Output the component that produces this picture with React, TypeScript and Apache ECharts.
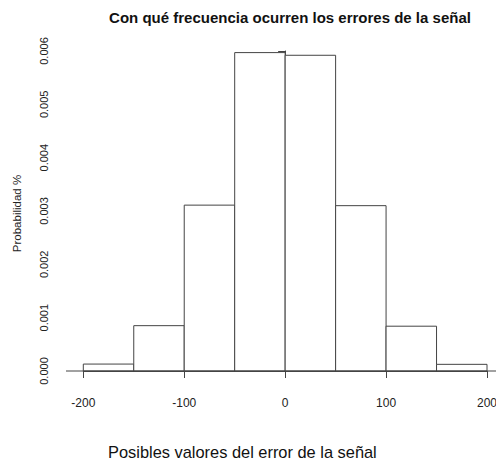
import React, { useEffect, useRef } from "react";
import * as echarts from "echarts";

const binStarts = [-200, -150, -100, -50, 0, 50, 100, 150];
const binEnds = [-150, -100, -50, 0, 50, 100, 150, 200];
const densities = [0.00013, 0.00085, 0.00311, 0.00597, 0.00592, 0.0031, 0.00084, 0.000125];
const xTicks = [-200, -100, 0, 100, 200];
const yTicks = [0, 0.001, 0.002, 0.003, 0.004, 0.005, 0.006];

const titleText = "Con qué frecuencia ocurren los errores de la señal";
const xName = "Posibles valores del error de la señal";
const yName = "Probabilidad %";

const FONT = "'Liberation Sans', Arial, Helvetica, sans-serif";
const LINE = "#444";

export default function App() {
  const ref = useRef<HTMLDivElement>(null);
  useEffect(() => {
    if (!ref.current) return;
    const chart = echarts.init(ref.current, null, { renderer: "svg" });
    const data = binStarts.map((s, i) => [s, binEnds[i], densities[i]]);
    chart.setOption({
      animation: false,
      backgroundColor: "#fff",
      title: {
        text: titleText,
        left: 285,
        top: 5,
        textAlign: "center",
        textStyle: { fontFamily: FONT, fontSize: 15, fontWeight: "bold", color: "#111" },
      },
      grid: { left: 83.3, right: 9, top: 51, bottom: 95, outerBoundsMode: "none", containLabel: false },
      xAxis: {
        type: "value",
        min: xTicks[0],
        max: xTicks[xTicks.length - 1],
        interval: 100,
        offset: 12,
        axisLine: { show: true, lineStyle: { color: LINE, width: 1 } },
        axisTick: { show: true, length: 7, lineStyle: { color: LINE } },
        axisLabel: { fontFamily: FONT, fontSize: 12, color: "#222", margin: 14 },
        splitLine: { show: false },
      },
      yAxis: {
        type: "value",
        min: yTicks[0],
        max: yTicks[yTicks.length - 1],
        interval: 0.001,
        offset: 17,
        axisLine: { show: true, lineStyle: { color: LINE, width: 1 } },
        axisTick: { show: true, length: 7, lineStyle: { color: LINE } },
        axisLabel: {
          fontFamily: FONT,
          fontSize: 11,
          color: "#222",
          rotate: 90,
          margin: 17,
          formatter: (v: number) => v.toFixed(3),
        },
        splitLine: { show: false },
      },
      series: [
        {
          type: "custom",
          data,
          encode: { x: [0, 1], y: 2 },
          renderItem: (params: any, api: any) => {
            const p0 = api.coord([api.value(0), api.value(2)]);
            const p1 = api.coord([api.value(1), 0]);
            return {
              type: "rect",
              shape: { x: p0[0], y: p0[1], width: p1[0] - p0[0], height: p1[1] - p0[1] },
              style: { fill: "#fff", stroke: LINE, lineWidth: 1 },
            };
          },
        },
      ],
      graphic: [
        {
          type: "line",
          shape: { x1: 66, y1: 371, x2: 496, y2: 371 },
          style: { stroke: LINE, lineWidth: 1 },
          z: 100,
        },
        {
          type: "text",
          x: 17,
          y: 213.5,
          rotation: Math.PI / 2,
          style: { text: yName, fontFamily: FONT, fontSize: 11.5, fill: "#222", align: "center", verticalAlign: "middle" },
        },
        {
          type: "text",
          x: 108,
          y: 452,
          style: { text: xName, fontFamily: FONT, fontSize: 16.4, fill: "#111", align: "left", verticalAlign: "middle" },
        },
      ],
    });
    return () => chart.dispose();
  }, []);
  return (
    <div
      ref={ref}
      style={{ position: "fixed", left: 0, top: 0, width: 496, height: 466 }}
    />
  );
}
